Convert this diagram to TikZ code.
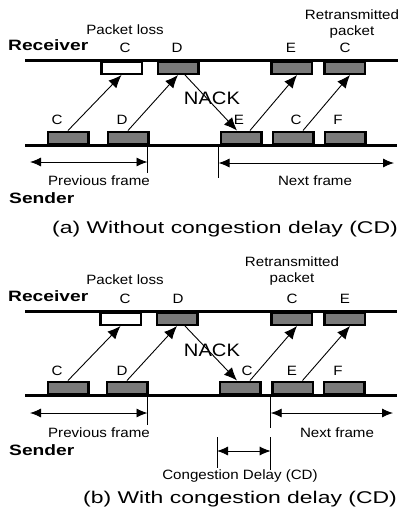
\documentclass[tikz,border=0pt]{standalone}
\usepackage{fontspec}
\setmainfont[FakeStretch=1.12]{Liberation Sans}
\newfontfamily\sidefont[FakeStretch=1.28]{Liberation Sans}
\newfontfamily\capfont[FakeStretch=1.35]{Liberation Sans}
\usetikzlibrary{arrows.meta}
\definecolor{pktgray}{gray}{0.48}
\tikzset{
  timeline/.style={line width=3pt},
  pkt/.style={draw, line width=2.5pt, fill=pktgray, minimum width=40.5pt, minimum height=12.5pt, inner sep=0},
  lostpkt/.style={pkt, fill=white},
  lbl/.style={inner sep=0, font=\fontsize{13.5}{16}\selectfont},
  side/.style={inner sep=0, anchor=west, font=\sidefont\bfseries\fontsize{15}{17}\selectfont},
  nacklbl/.style={inner sep=0, font=\fontsize{18}{20}\selectfont},
  capt/.style={inner sep=0, font=\capfont\fontsize{17}{20}\selectfont},
  send/.style={line width=0.9pt, -{Latex[length=13pt,width=11pt]}},
  span/.style={line width=0.9pt, {Latex[length=11pt,width=9pt]}-{Latex[length=11pt,width=9pt]}},
  tick/.style={line width=0.9pt}
}

\begin{document}
\begin{tikzpicture}[x=1pt,y=-1pt]
\useasboundingbox (0,0) rectangle (401,522);

% (a) without congestion delay
\coordinate (aR0) at (25,60.5);  \coordinate (aR1) at (398,60.5);
\coordinate (aS0) at (25,145);   \coordinate (aS1) at (397,145);
\draw[timeline] (aR0) -- (aR1);
\draw[timeline] (aS0) -- (aS1);

\node[lostpkt] (aRC) at (121.5,67.5) {};
\node[pkt] (aRD) at (178,67.5) {};
\node[pkt] (aRE) at (291.5,67.5) {};
\node[pkt] (aRC2) at (344.5,67.5) {};
\node[pkt] (aSC) at (68,138) {};
\node[pkt] (aSD) at (128,138) {};
\node[pkt] (aSE) at (241,138) {};
\node[pkt] (aSC2) at (293,138) {};
\node[pkt] (aSF) at (345,138) {};

\node[side] (aRecv) at (8,45) {Receiver};
\node[side] (aSend) at (9,198) {Sender};
\node[lbl] (aLoss) at (125,30) {Packet loss};
\node[lbl, align=center] (aRetx) at (352,24) {Retransmitted\\packet};
\node[lbl] (aLRC) at (125,48) {C};
\node[lbl] (aLRD) at (177,48) {D};
\node[lbl] (aLRE) at (291,48) {E};
\node[lbl] (aLRC2) at (345,48) {C};
\node[lbl] (aLSC) at (57,120) {C};
\node[lbl] (aLSD) at (122,120) {D};
\node[lbl] (aLSE) at (239,120) {E};
\node[lbl] (aLSC2) at (296,120) {C};
\node[lbl] (aLSF) at (338,120) {F};
\node[nacklbl] (aNack) at (212,98.5) {NACK};

\draw[send] (aSC.north) -- (aRC.south);
\draw[send] (aSD.north) -- (aRD.south);
\draw[send] ([xshift=7pt]aRD.south) -- ([xshift=-4pt]aSE.north);
\draw[send] ([xshift=9pt]aSE.north) -- ([xshift=5.5pt]aRE.south);
\draw[send] ([xshift=10pt]aSC2.north) -- ([xshift=5.5pt]aRC2.south);

\coordinate (aPT0) at (147.5,145); \coordinate (aPT1) at (147.5,173);
\coordinate (aNT0) at (218.5,145); \coordinate (aNT1) at (218.5,178);
\coordinate (aP0) at (30,162);  \coordinate (aP1) at (147.5,162);
\coordinate (aN0) at (218.5,163); \coordinate (aN1) at (394,163);
\draw[tick] (aPT0) -- (aPT1);
\draw[tick] (aNT0) -- (aNT1);
\draw[span] (aP0) -- (aP1);
\draw[span] (aN0) -- (aN1);
\node[lbl] (aPrev) at (99,180.5) {Previous frame};
\node[lbl] (aNext) at (315,180.5) {Next frame};
\node[capt] (aCap) at (225,229) {(a) Without congestion delay (CD)};

% (b) with congestion delay
\coordinate (bR0) at (25,311.5); \coordinate (bR1) at (397,311.5);
\coordinate (bS0) at (25,395);   \coordinate (bS1) at (397,395);
\draw[timeline] (bR0) -- (bR1);
\draw[timeline] (bS0) -- (bS1);

\node[lostpkt] (bRC) at (120.5,318.5) {};
\node[pkt] (bRD) at (177,318.5) {};
\node[pkt] (bRC2) at (291.5,318.5) {};
\node[pkt] (bRE) at (344.5,318.5) {};
\node[pkt] (bSC) at (68,388) {};
\node[pkt] (bSD) at (127,388) {};
\node[pkt] (bSC2) at (240,388) {};
\node[pkt] (bSE) at (292.5,388) {};
\node[pkt] (bSF) at (344,388) {};

\node[side] (bRecv) at (8,296.5) {Receiver};
\node[side] (bSend) at (9,450) {Sender};
\node[lbl] (bLoss) at (125,280) {Packet loss};
\node[lbl, align=center] (bRetx) at (292,271) {Retransmitted\\packet};
\node[lbl] (bLRC) at (125,299) {C};
\node[lbl] (bLRD) at (178,299) {D};
\node[lbl] (bLRC2) at (292,299) {C};
\node[lbl] (bLRE) at (345,299) {E};
\node[lbl] (bLSC) at (57,371) {C};
\node[lbl] (bLSD) at (122,371) {D};
\node[lbl] (bLSC2) at (247,371) {C};
\node[lbl] (bLSE) at (292,371) {E};
\node[lbl] (bLSF) at (338,371) {F};
\node[nacklbl] (bNack) at (212,350) {NACK};

\draw[send] (bSC.north) -- (bRC.south);
\draw[send] (bSD.north) -- (bRD.south);
\draw[send] ([xshift=8pt]bRD.south) -- ([xshift=-3pt]bSC2.north);
\draw[send] ([xshift=10pt]bSC2.north) -- ([xshift=5.5pt]bRC2.south);
\draw[send] ([xshift=10pt]bSE.north) -- ([xshift=5.5pt]bRE.south);

\coordinate (bPT0) at (147.5,395); \coordinate (bPT1) at (147.5,425);
\coordinate (bNT0) at (270.7,395); \coordinate (bNT1) at (270.7,428);
\coordinate (bP0) at (30,413);  \coordinate (bP1) at (147.5,413);
\coordinate (bN0) at (270.7,413); \coordinate (bN1) at (393,413);
\draw[tick] (bPT0) -- (bPT1);
\draw[tick] (bNT0) -- (bNT1);
\draw[span] (bP0) -- (bP1);
\draw[span] (bN0) -- (bN1);
\node[lbl] (bPrev) at (99,432.5) {Previous frame};
\node[lbl] (bNext) at (337,432.5) {Next frame};

\coordinate (bDT0) at (217,437); \coordinate (bDT1) at (217,468);
\coordinate (bET0) at (270.7,437); \coordinate (bET1) at (270.7,470);
\draw[tick] (bDT0) -- (bDT1);
\draw[tick] (bET0) -- (bET1);
\draw[span] (bDT0 |- 0,451) -- (bET0 |- 0,451);
\node[lbl] (bDelay) at (240,476.5) {Congestion Delay (CD)};
\node[capt] (bCap) at (240,499) {(b) With congestion delay (CD)};
\end{tikzpicture}
\end{document}
